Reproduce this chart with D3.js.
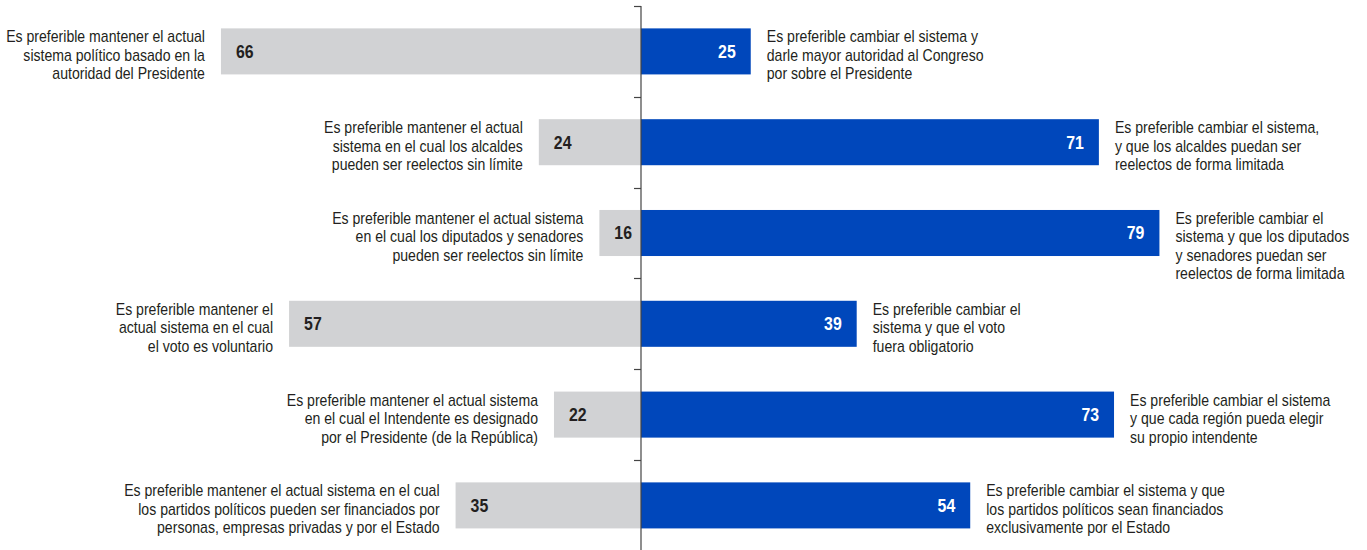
<!DOCTYPE html>
<html lang="es">
<head>
<meta charset="UTF-8">
<title>Preferencias sobre el sistema</title>
<script src="https://cdn.jsdelivr.net/npm/d3@7/dist/d3.min.js"></script>
<style>
    html, body { margin: 0; padding: 0; background: #fff; }
    svg { display: block; }
    text { font-family: "Liberation Sans", Arial, sans-serif; fill: #231f20; }
    .lbl { font-size: 16px; }
    .val { font-size: 18px; font-weight: 700; }
    .val.right { fill: #fff; }
</style>
</head>
<body>
<svg width="1367" height="550"></svg>
<script>
    // datos
    var items = ["q1", "q2", "q3", "q4", "q5", "q6"];
    var keepValues = [66, 24, 16, 57, 22, 35];
    var changeValues = [25, 71, 79, 39, 73, 54];
    var keepLabels = [
        ["Es preferible mantener el actual", "sistema político basado en la", "autoridad del Presidente"],
        ["Es preferible mantener el actual", "sistema en el cual los alcaldes", "pueden ser reelectos sin límite"],
        ["Es preferible mantener el actual sistema", "en el cual los diputados y senadores", "pueden ser reelectos sin límite"],
        ["Es preferible mantener el", "actual sistema en el cual", "el voto es voluntario"],
        ["Es preferible mantener el actual sistema", "en el cual el Intendente es designado", "por el Presidente (de la República)"],
        ["Es preferible mantener el actual sistema en el cual", "los partidos políticos pueden ser financiados por", "personas, empresas privadas y por el Estado"]
    ];
    var changeLabels = [
        ["Es preferible cambiar el sistema y", "darle mayor autoridad al Congreso", "por sobre el Presidente"],
        ["Es preferible cambiar el sistema,", "y que los alcaldes puedan ser", "reelectos de forma limitada"],
        ["Es preferible cambiar el", "sistema y que los diputados", "y senadores puedan ser", "reelectos de forma limitada"],
        ["Es preferible cambiar el", "sistema y que el voto", "fuera obligatorio"],
        ["Es preferible cambiar el sistema", "y que cada región pueda elegir", "su propio intendente"],
        ["Es preferible cambiar el sistema y que", "los partidos políticos sean financiados", "exclusivamente por el Estado"]
    ];

    var svg = d3.select("svg");
    var cx = 641;
    var grey = "#d1d2d4", blue = "#0047bb";

    // no hay fuente condensada: se mide una línea y se comprime en x
    var probe = svg.append("text").attr("class", "lbl").text(keepLabels[0][0]);
    var sx = 199 / probe.node().getComputedTextLength();
    probe.remove();

    var y = d3.scaleBand()
        .domain(items)
        .range([6, 550.8])
        .paddingInner(0.493)
        .paddingOuter(0.2465);

    // la escala no parte en cero en el original
    var w = d3.scaleLinear()
        .domain([10.5, 80])
        .range([0, 526]);

    var rows = svg.selectAll(".row")
        .data(items)
        .enter()
        .append("g")
        .attr("class", "row")
        .attr("transform", function (d) { return "translate(0," + y(d) + ")"; });

    rows.append("rect")
        .attr("x", function (d, i) { return cx - w(keepValues[i]); })
        .attr("y", 0)
        .attr("width", function (d, i) { return w(keepValues[i]); })
        .attr("height", y.bandwidth())
        .attr("fill", grey);

    rows.append("rect")
        .attr("x", cx)
        .attr("y", 0)
        .attr("width", function (d, i) { return w(changeValues[i]); })
        .attr("height", y.bandwidth())
        .attr("fill", blue);

    rows.append("text")
        .attr("class", "val")
        .attr("transform", function (d, i) {
            return "translate(" + (cx - w(keepValues[i]) + 15) + "," + (y.bandwidth() / 2) + ") scale(" + sx + ",1)";
        })
        .attr("dy", "0.36em")
        .text(function (d, i) { return keepValues[i]; });

    rows.append("text")
        .attr("class", "val right")
        .attr("transform", function (d, i) {
            return "translate(" + (cx + w(changeValues[i]) - 15) + "," + (y.bandwidth() / 2) + ") scale(" + sx + ",1)";
        })
        .attr("dy", "0.36em")
        .attr("text-anchor", "end")
        .text(function (d, i) { return changeValues[i]; });

    // textos de cada opción
    var lineH = 18.5;
    rows.append("text")
        .attr("class", "lbl")
        .attr("text-anchor", "end")
        .attr("transform", function (d, i) {
            return "translate(" + (cx - w(keepValues[i]) - 16) + ",14) scale(" + sx + ",1)";
        })
        .selectAll("tspan")
        .data(function (d, i) { return keepLabels[i]; })
        .enter()
        .append("tspan")
        .attr("x", 0)
        .attr("y", function (d, j) { return j * lineH; })
        .text(function (d) { return d; });

    rows.append("text")
        .attr("class", "lbl")
        .attr("transform", function (d, i) {
            return "translate(" + (cx + w(changeValues[i]) + 16) + ",14) scale(" + sx + ",1)";
        })
        .selectAll("tspan")
        .data(function (d, i) { return changeLabels[i]; })
        .enter()
        .append("tspan")
        .attr("x", 0)
        .attr("y", function (d, j) { return j * lineH; })
        .text(function (d) { return d; });

    // eje central
    svg.append("line")
        .attr("x1", cx).attr("x2", cx)
        .attr("y1", 6).attr("y2", 550)
        .attr("stroke", "#444")
        .attr("stroke-width", 1.2);

    svg.selectAll(".tick")
        .data(items)
        .enter()
        .append("line")
        .attr("class", "tick")
        .attr("x1", cx - 7).attr("x2", cx)
        .attr("y1", function (d) { return Math.round(y(d) - y.step() * y.paddingInner() / 2) + 0.5; })
        .attr("y2", function (d) { return Math.round(y(d) - y.step() * y.paddingInner() / 2) + 0.5; })
        .attr("stroke", "#444")
        .attr("stroke-width", 1.2);
</script>
</body>
</html>
